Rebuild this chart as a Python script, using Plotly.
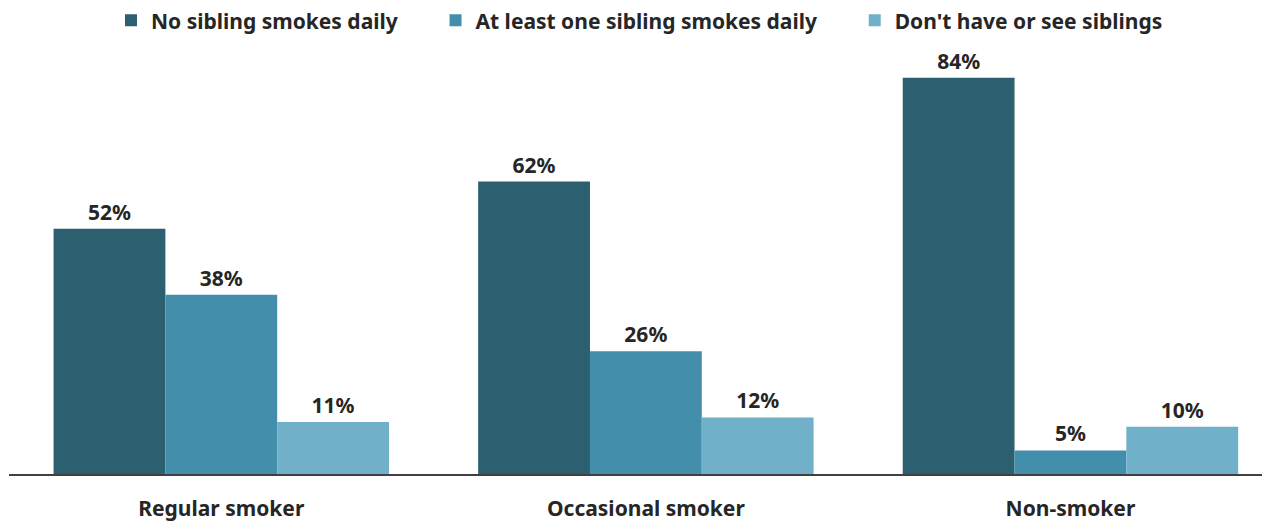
import plotly.graph_objects as go

categories = ["Regular smoker", "Occasional smoker", "Non-smoker"]
series_names = ["No sibling smokes daily", "At least one sibling smokes daily", "Don't have or see siblings"]
no_sibling = [52, 62, 84]
one_sibling = [38, 26, 5]
no_siblings_seen = [11, 12, 10]
colors = ["#2C5F70", "#438EAB", "#70B0C8"]

FONT = "Noto Sans"
PAD = "\u00a0" * 6  # extra legend spacing after an entry

fig = go.Figure()
for i, (name, vals, col) in enumerate(zip(series_names, [no_sibling, one_sibling, no_siblings_seen], colors)):
    label = name + (PAD if i < len(series_names) - 1 else "")
    fig.add_trace(go.Bar(
        x=categories, y=vals, name=label,
        marker=dict(color=col, line=dict(width=0)),
        text=[f"{v}%" for v in vals], textposition="outside",
        textfont=dict(family=FONT, size=21, color="#262626", weight="bold"),
        cliponaxis=False,
    ))

# page body adds an 8px margin, so the figure is sized to fit the 1270x522 window
fig.update_layout(
    barmode="group", bargap=0.21, bargroupgap=0,
    width=1262, height=514,
    margin=dict(l=1, r=0, t=32, b=48, autoexpand=False),
    plot_bgcolor="white", paper_bgcolor="white",
    font=dict(family=FONT, color="#262626"),
    legend=dict(orientation="h", x=0.5, xanchor="center", y=1.0445, yanchor="middle",
                font=dict(family=FONT, size=21, color="#262626", weight="bold"),
                itemwidth=30, traceorder="normal"),
    showlegend=True,
)
fig.update_xaxes(range=[-0.5, 2.47], showline=True, linecolor="#404040", linewidth=1.5,
                 ticks="", automargin=False, ticklabelstandoff=15,
                 tickfont=dict(family=FONT, size=21, color="#262626", weight="bold"),
                 showgrid=False)
fig.update_yaxes(range=[0, 92], visible=False, showgrid=False, automargin=False)

fig.write_html("out.html")
